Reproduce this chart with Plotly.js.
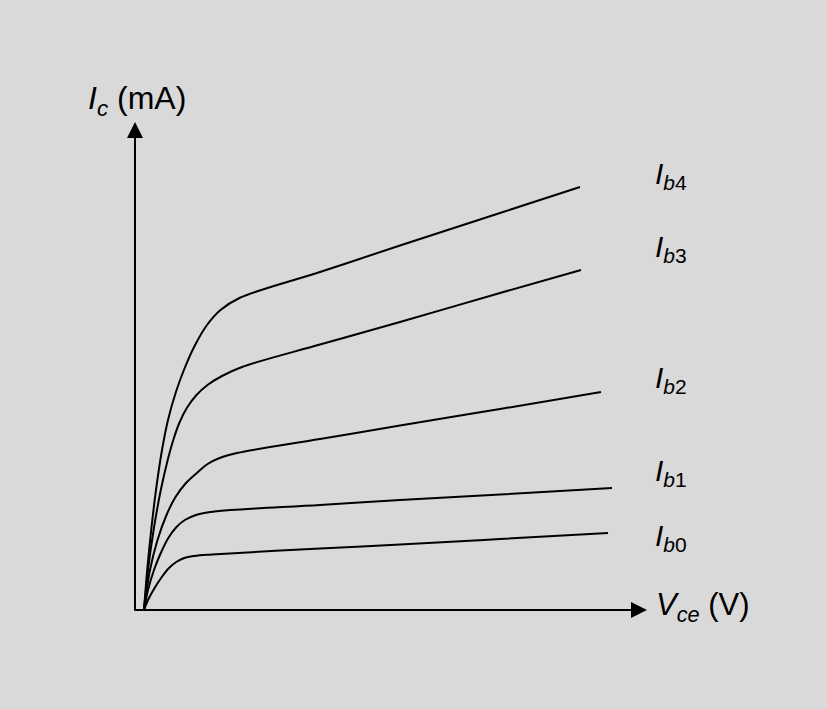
<!DOCTYPE html>
<html>
<head>
<meta charset="utf-8">
<script src="https://cdn.plot.ly/plotly-3.0.1.min.js"></script>
<style>html,body{margin:0;padding:0;background:#d9d9d9;}#chart{width:827px;height:709px;}</style>
</head>
<body>
<div id="chart"></div>
<script>
// Series names (subscript of I_b)
var seriesLetter = "b";
var seriesIndex = ["0", "1", "2", "3", "4"];

// Vce values (arbitrary units) and Ic values for each base current
var vceB0 = [0.18, 0.26, 0.392, 0.536, 0.68, 0.824, 0.984, 1.184, 1.54, 3.70, 5.30, 7.30, 9.46];
var icB0  = [0, 0.20, 0.44, 0.66, 0.84, 0.96, 1.04, 1.08, 1.11, 1.23, 1.31, 1.42, 1.54];

var vceB1 = [0.18, 0.26, 0.38, 0.516, 0.666, 0.83, 0.998, 1.22, 1.52, 1.92, 3.70, 5.30, 7.30, 9.54];
var icB1  = [0, 0.40, 0.80, 1.14, 1.44, 1.66, 1.80, 1.90, 1.96, 2.00, 2.10, 2.20, 2.31, 2.44];

var vceB2 = [0.18, 0.30, 0.45, 0.63, 0.81, 1.02, 1.26, 1.452, 1.692, 2.04, 3.70, 5.30, 7.30, 9.32];
var icB2  = [0, 0.80, 1.40, 1.90, 2.26, 2.54, 2.76, 2.92, 3.04, 3.14, 3.42, 3.69, 4.02, 4.36];

var vceB3 = [0.18, 0.26, 0.372, 0.516, 0.654, 0.766, 0.886, 1.036, 1.23, 1.45, 1.74, 2.14, 3.70, 5.30, 7.30, 8.92];
var icB3  = [0, 0.80, 1.60, 2.40, 3.00, 3.40, 3.74, 4.04, 4.30, 4.50, 4.68, 4.86, 5.31, 5.76, 6.34, 6.80];

var vceB4 = [0.18, 0.244, 0.324, 0.42, 0.54, 0.66, 0.812, 0.978, 1.202, 1.44, 1.71, 2.09, 3.70, 5.30, 7.30, 8.90];
var icB4  = [0, 0.80, 1.60, 2.40, 3.20, 3.80, 4.34, 4.80, 5.30, 5.70, 6.00, 6.24, 6.76, 7.29, 7.94, 8.46];

// Label vertical positions for each series (same units as Ic)
var labelY = [1.46, 2.76, 4.62, 7.24, 8.7];

var xs = [vceB0, vceB1, vceB2, vceB3, vceB4];
var ys = [icB0, icB1, icB2, icB3, icB4];

var traces = xs.map(function (x, i) {
  return {
    x: x, y: ys[i], type: "scatter", mode: "lines",
    line: {color: "#000", width: 2, shape: "spline", smoothing: 1.0},
    hoverinfo: "skip", showlegend: false, name: "I" + seriesLetter + seriesIndex[i]
  };
});

var fontFam = "Liberation Sans, Arial, Helvetica, sans-serif";
var annotations = [];

// Axis arrows
annotations.push({x: 0, y: 9.76, ax: 0, ay: -0.04, xref: "x", yref: "y", axref: "x", ayref: "y",
  showarrow: true, arrowhead: 2, arrowsize: 1.6, arrowwidth: 2, arrowcolor: "#000", text: ""});
annotations.push({x: 10.24, y: 0, ax: -0.04, ay: 0, xref: "x", yref: "y", axref: "x", ayref: "y",
  showarrow: true, arrowhead: 2, arrowsize: 1.6, arrowwidth: 2, arrowcolor: "#000", text: ""});

// Axis titles
annotations.push({x: -0.98, y: 10.2, xref: "x", yref: "y", xanchor: "left", yanchor: "middle", showarrow: false,
  text: "<i>I</i><sub><i>c</i></sub> (mA)", font: {family: fontFam, size: 32, color: "#000"}});
annotations.push({x: 10.38, y: 0.06, xref: "x", yref: "y", xanchor: "left", yanchor: "middle", showarrow: false,
  text: "<i>V</i><sub><i>ce</i></sub> (V)", font: {family: fontFam, size: 31, color: "#000"}});

// Series labels
seriesIndex.forEach(function (n, i) {
  annotations.push({x: 10.36, y: labelY[i], xref: "x", yref: "y", xanchor: "left", yanchor: "middle", showarrow: false,
    text: "<i>I</i><sub><i>" + seriesLetter + "</i>" + n + "</sub>", font: {family: fontFam, size: 30, color: "#000"}});
});

var layout = {
  width: 827, height: 709,
  margin: {l: 0, r: 0, t: 0, b: 0},
  paper_bgcolor: "#d9d9d9", plot_bgcolor: "#d9d9d9",
  xaxis: {range: [-2.7, 13.84], visible: false, fixedrange: true},
  yaxis: {range: [-1.98, 12.2], visible: false, fixedrange: true},
  annotations: annotations,
  showlegend: false
};

Plotly.newPlot("chart", traces, layout, {displayModeBar: false, staticPlot: true});
</script>
</body>
</html>
